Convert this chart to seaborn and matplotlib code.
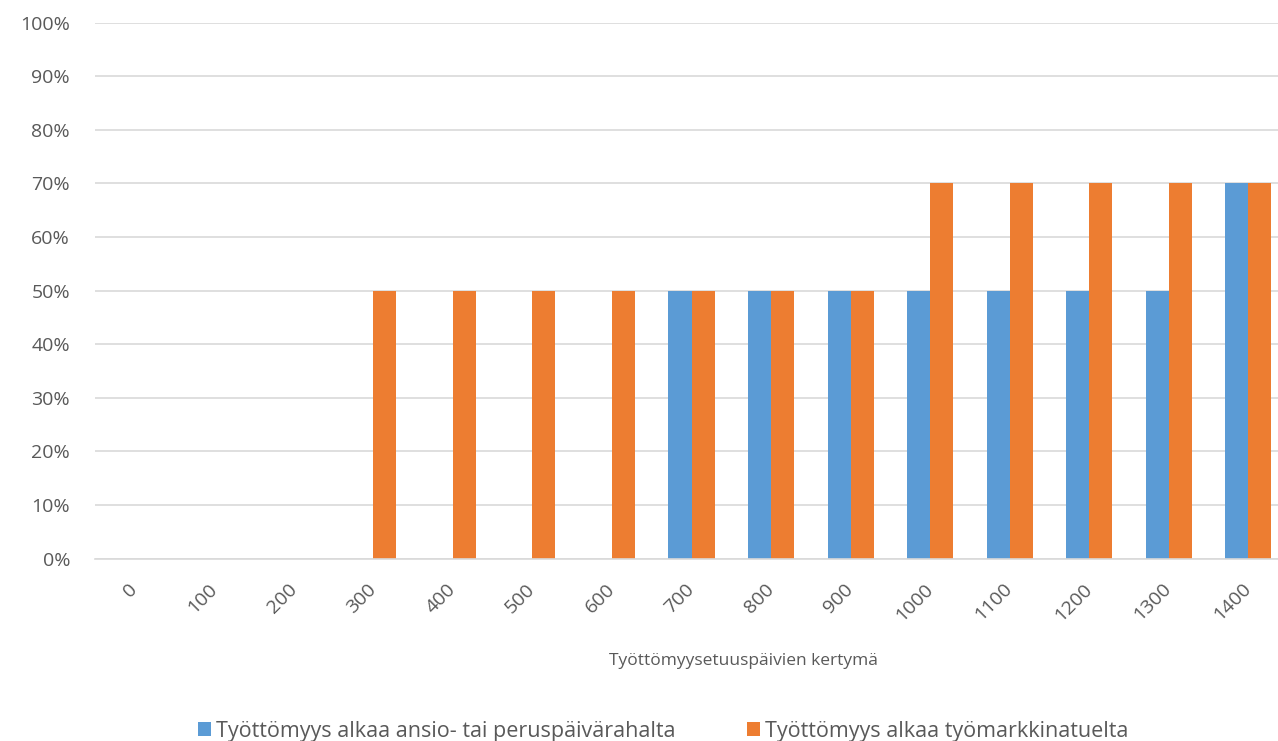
import matplotlib
matplotlib.use("Agg")
import matplotlib.pyplot as plt
import seaborn as sns
import pandas as pd
from matplotlib.patches import Patch

categories = ["0", "100", "200", "300", "400", "500", "600", "700", "800",
              "900", "1000", "1100", "1200", "1300", "1400"]
ansio = [0, 0, 0, 0, 0, 0, 0, 50, 50, 50, 50, 50, 50, 50, 70]
tyomarkkina = [0, 0, 0, 50, 50, 50, 50, 50, 50, 50, 70, 70, 70, 70, 70]
series_names = ["Työttömyys alkaa ansio- tai peruspäivärahalta",
                "Työttömyys alkaa työmarkkinatuelta"]
colors = ["#5B9BD5", "#ED7D31"]
yticks = [0, 10, 20, 30, 40, 50, 60, 70, 80, 90, 100]
xlabel = "Työttömyysetuuspäivien kertymä"

df = pd.DataFrame({
    "cat": categories * 2,
    "value": ansio + tyomarkkina,
    "series": [series_names[0]] * len(categories) + [series_names[1]] * len(categories),
})

sns.set_theme(style="white")
plt.rcParams["font.family"] = ["Open Sans", "DejaVu Sans"]

fig = plt.figure(figsize=(12.78, 7.41), dpi=100)
W, H = 1278, 741
left, right = 95, 1288
top, bottom = 22.5, 558.5
ax = fig.add_axes([left / W, (H - bottom) / H, (right - left) / W, (bottom - top) / H])

sns.barplot(data=df, x="cat", y="value", hue="series", order=categories,
            hue_order=series_names, palette=colors, width=0.58, linewidth=0,
            saturation=1, ax=ax, legend=False)

ax.set_ylim(0, 100)
ax.set_xlim(-0.5, len(categories) - 0.5)
ax.set_yticks(yticks)
ax.set_yticklabels([f"{t}%" for t in yticks], color="#595959", fontsize=14)
ax.yaxis.grid(True, color="#D9D9D9", linewidth=1.2)
ax.set_axisbelow(True)
for s in ["top", "right", "left"]:
    ax.spines[s].set_visible(False)
ax.spines["bottom"].set_color("#D9D9D9")
ax.spines["bottom"].set_linewidth(1.2)
ax.tick_params(axis="y", length=0, pad=18)
ax.tick_params(axis="x", length=0, pad=20)
for lbl in ax.get_xticklabels():
    lbl.set_rotation(45)
    lbl.set_rotation_mode("anchor")
    lbl.set_ha("right")
    lbl.set_va("center")
    lbl.set_color("#595959")
    lbl.set_fontsize(14)
ax.set_ylabel("")
ax.set_xlabel(xlabel, fontsize=12.5, color="#595959")
ax.xaxis.set_label_coords((743 - left) / (right - left), -(661 - bottom) / (bottom - top))
ax.xaxis.label.set_va("center")

handles = [Patch(facecolor=c, edgecolor="none") for c in colors]
fig.legend(handles, series_names, loc="center", bbox_to_anchor=(663 / W, 1 - 731 / H),
           ncol=2, frameon=False, fontsize=15.5, handlelength=0.6, handleheight=0.6,
           handletextpad=0.25, columnspacing=3.3, labelcolor="#595959")

fig.savefig("out.png", dpi=100)
